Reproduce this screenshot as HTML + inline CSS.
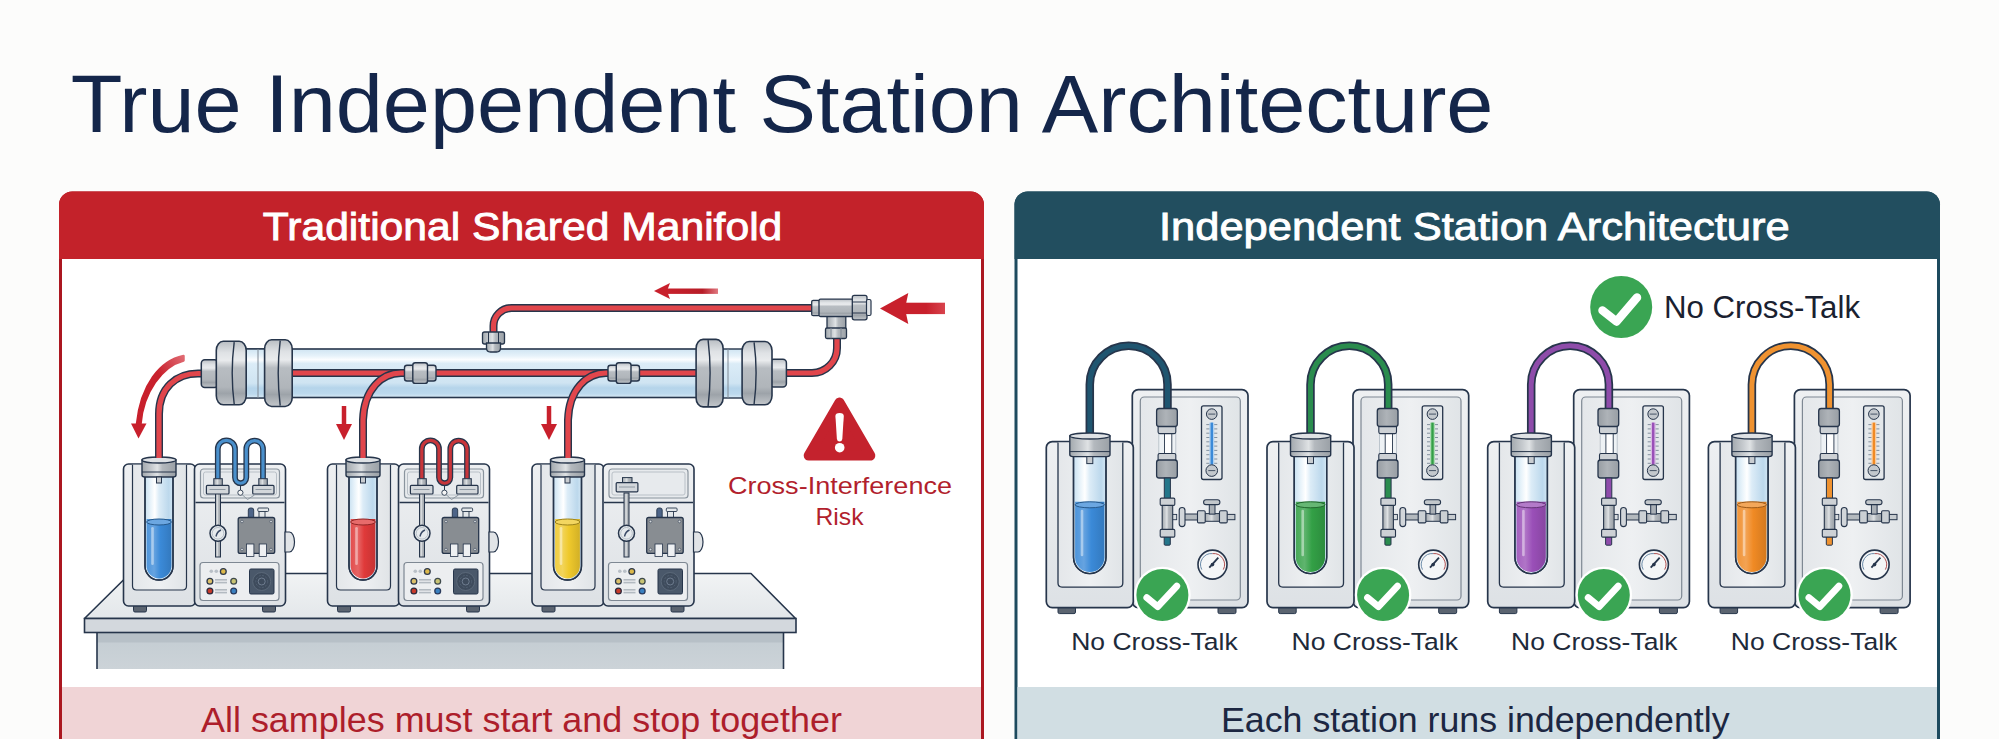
<!DOCTYPE html>
<html><head><meta charset="utf-8"><title>True Independent Station Architecture</title>
<style>html,body{margin:0;padding:0;background:#fcfcfb;width:1999px;height:739px;overflow:hidden}svg{display:block}</style>
</head><body>
<svg width="1999" height="739" viewBox="0 0 1999 739"><defs>
<linearGradient id="mV" x1="0" y1="0" x2="0" y2="1">
 <stop offset="0" stop-color="#b9bec3"/><stop offset="0.18" stop-color="#dfe2e5"/><stop offset="0.3" stop-color="#e9ebed"/>
 <stop offset="0.42" stop-color="#b8bdc2"/><stop offset="0.72" stop-color="#b0b5ba"/><stop offset="0.82" stop-color="#9da3a9"/><stop offset="1" stop-color="#c3c7cb"/>
</linearGradient>
<linearGradient id="mH" x1="0" y1="0" x2="1" y2="0">
 <stop offset="0" stop-color="#a3a9ae"/><stop offset="0.3" stop-color="#c9cdd1"/><stop offset="0.45" stop-color="#dfe2e4"/>
 <stop offset="0.6" stop-color="#b4b9be"/><stop offset="1" stop-color="#9aa0a6"/>
</linearGradient>
<linearGradient id="mF" x1="0" y1="0" x2="1" y2="0">
 <stop offset="0" stop-color="#979da3"/><stop offset="0.45" stop-color="#aeb3b8"/><stop offset="1" stop-color="#989ea4"/>
</linearGradient>
<linearGradient id="tblG" x1="0" y1="0" x2="0" y2="1">
 <stop offset="0" stop-color="#c3ccd2"/><stop offset="1" stop-color="#ccd3d8"/>
</linearGradient>
<linearGradient id="gV" x1="0" y1="0" x2="0" y2="1">
 <stop offset="0" stop-color="#cfe4f2"/><stop offset="0.14" stop-color="#e6f2fa"/><stop offset="0.22" stop-color="#fbfdff"/><stop offset="0.3" stop-color="#dbecf7"/>
 <stop offset="0.7" stop-color="#cfe4f2"/><stop offset="0.8" stop-color="#b5d4ea"/><stop offset="0.92" stop-color="#bcd9ed"/><stop offset="1" stop-color="#d9eaf5"/>
</linearGradient>
<linearGradient id="gH" x1="0" y1="0" x2="1" y2="0">
 <stop offset="0" stop-color="#c9e1f1"/><stop offset="0.2" stop-color="#e8f3fa"/><stop offset="0.35" stop-color="#ffffff"/><stop offset="0.5" stop-color="#dcecf7"/>
 <stop offset="0.85" stop-color="#bcd8ec"/><stop offset="1" stop-color="#d3e7f4"/>
</linearGradient>
<linearGradient id="boxG" x1="0" y1="0" x2="0" y2="1">
 <stop offset="0" stop-color="#eef0f2"/><stop offset="1" stop-color="#dde1e5"/>
</linearGradient>
<linearGradient id="boxG2" x1="0" y1="0" x2="1" y2="0">
 <stop offset="0" stop-color="#e4e7ea"/><stop offset="0.5" stop-color="#eef0f2"/><stop offset="1" stop-color="#e0e4e7"/>
</linearGradient>
<linearGradient id="topG" x1="0" y1="0" x2="0" y2="1">
 <stop offset="0" stop-color="#f1f3f4"/><stop offset="1" stop-color="#e3e7ea"/>
</linearGradient>
<linearGradient id="Lblue" x1="0" y1="0" x2="1" y2="0"><stop offset="0" stop-color="#4e95db"/><stop offset="0.3" stop-color="#66a3e0"/><stop offset="0.55" stop-color="#3b8ad8"/><stop offset="1" stop-color="#3379be"/></linearGradient><linearGradient id="Lred" x1="0" y1="0" x2="1" y2="0"><stop offset="0" stop-color="#e34d4d"/><stop offset="0.3" stop-color="#e66565"/><stop offset="0.55" stop-color="#e03a3a"/><stop offset="1" stop-color="#c53333"/></linearGradient><linearGradient id="Lyellow" x1="0" y1="0" x2="1" y2="0"><stop offset="0" stop-color="#f0ce41"/><stop offset="0.3" stop-color="#f2d45a"/><stop offset="0.55" stop-color="#efc92c"/><stop offset="1" stop-color="#d2b026"/></linearGradient><linearGradient id="Lgreen" x1="0" y1="0" x2="1" y2="0"><stop offset="0" stop-color="#47a958"/><stop offset="0.3" stop-color="#5fb46e"/><stop offset="0.55" stop-color="#33a046"/><stop offset="1" stop-color="#2c8c3d"/></linearGradient><linearGradient id="Lpurple" x1="0" y1="0" x2="1" y2="0"><stop offset="0" stop-color="#a460bf"/><stop offset="0.3" stop-color="#b075c7"/><stop offset="0.55" stop-color="#9a4fb8"/><stop offset="1" stop-color="#8745a1"/></linearGradient><linearGradient id="Lorange" x1="0" y1="0" x2="1" y2="0"><stop offset="0" stop-color="#f19539"/><stop offset="0.3" stop-color="#f3a354"/><stop offset="0.55" stop-color="#f08a24"/><stop offset="1" stop-color="#d3791f"/></linearGradient>
<linearGradient id="fadeR" x1="0" y1="0" x2="1" y2="0"><stop offset="0" stop-color="#c8202c"/><stop offset="0.55" stop-color="#c8202c"/><stop offset="1" stop-color="#d8434d"/></linearGradient>
<linearGradient id="fadeR2" x1="0" y1="0" x2="1" y2="0"><stop offset="0" stop-color="#c8202c"/><stop offset="0.7" stop-color="#b71c27"/><stop offset="1" stop-color="#e07880"/></linearGradient>
<linearGradient id="fadeC" x1="0" y1="1" x2="1" y2="0"><stop offset="0" stop-color="#c8202c"/><stop offset="0.6" stop-color="#c8202c"/><stop offset="1" stop-color="#e06a72"/></linearGradient>
</defs>
<rect x="0" y="0" width="1999" height="739" fill="#fcfcfb"/>
<rect x="60.5" y="193.0" width="922" height="568.5" rx="12" fill="#ffffff" stroke="#ab1720" stroke-width="3"/>
<path d="M59,259 V204.5 A13,13 0 0 1 72,191.5 H971 A13,13 0 0 1 984,204.5 V259 Z" fill="#c3222a"/>
<rect x="62" y="687" width="919" height="60" fill="#f0d4d6"/>
<rect x="1016.0" y="193.0" width="922.5" height="568.5" rx="12" fill="#ffffff" stroke="#1d4a5e" stroke-width="3"/>
<path d="M1014.5,259 V204.5 A13,13 0 0 1 1027.5,191.5 H1927 A13,13 0 0 1 1940,204.5 V259 Z" fill="#224e5f"/>
<rect x="1017.5" y="687" width="919.5" height="60" fill="#d1dee3"/>
<text x="70.8" y="132" font-family='"Liberation Sans", sans-serif' font-size="82" fill="#14264a" textLength="1422.6" lengthAdjust="spacingAndGlyphs">True Independent Station Architecture</text>
<text x="262.8" y="240" font-family='"Liberation Sans", sans-serif' font-size="39" font-weight="normal" fill="#ffffff" stroke="#ffffff" stroke-width="0.9" textLength="519.5" lengthAdjust="spacingAndGlyphs">Traditional Shared Manifold</text>
<text x="1159" y="240" font-family='"Liberation Sans", sans-serif' font-size="39" font-weight="normal" fill="#ffffff" stroke="#ffffff" stroke-width="0.9" textLength="630.6" lengthAdjust="spacingAndGlyphs">Independent Station Architecture</text>
<text x="201" y="731.5" font-family='"Liberation Sans", sans-serif' font-size="35" fill="#ad1e2b" textLength="641" lengthAdjust="spacingAndGlyphs">All samples must start and stop together</text>
<text x="1221" y="731.5" font-family='"Liberation Sans", sans-serif' font-size="35" fill="#1c2742" textLength="508.6" lengthAdjust="spacingAndGlyphs">Each station runs independently</text>
<rect x="97" y="632" width="686.5" height="37" fill="url(#tblG)"/>
<rect x="97" y="632" width="686.5" height="10.5" fill="#b7c0c7"/>
<path d="M97,632 V669 M783.5,632 V669" stroke="#26354b" stroke-width="1.6"/>
<path d="M130,573.5 H751 L795.6,618.5 H84.5 Z" fill="url(#topG)" stroke="#26354b" stroke-width="1.6" stroke-linejoin="round"/>
<rect x="84.5" y="618.5" width="711.5" height="14" fill="#d3d8dd" stroke="#26354b" stroke-width="1.6"/>
<g transform="translate(123.5,464)"><rect x="10" y="141" width="13" height="7" rx="1.5" fill="#5b6470" stroke="#26354b" stroke-width="1"/><rect x="139" y="141" width="13" height="7" rx="1.5" fill="#5b6470" stroke="#26354b" stroke-width="1"/><rect x="0" y="0" width="72" height="142" rx="5" fill="url(#boxG)" stroke="#26354b" stroke-width="1.6"/><path d="M9,0.8 V122 Q9,126 13,126 H59 Q63,126 63,122 V0.8 Z" fill="url(#boxG2)"/><path d="M9,0.8 V122 Q9,126 13,126 H59 Q63,126 63,122 V0.8" fill="none" stroke="#26354b" stroke-width="1.2"/><rect x="71" y="0" width="91" height="142" rx="5" fill="url(#boxG)" stroke="#26354b" stroke-width="1.6"/><rect x="77" y="5" width="79" height="29" rx="3" fill="#e7eaed" stroke="#8a949e" stroke-width="1.2"/><rect x="80" y="8" width="73" height="23" rx="2" fill="none" stroke="#b9c0c7" stroke-width="1"/><line x1="72" y1="38.5" x2="161" y2="38.5" stroke="#26354b" stroke-width="1.5"/><path d="M161.5,68 H166 A5,10 0 0 1 166,88 H161.5 Z" fill="#e1e4e7" stroke="#26354b" stroke-width="1.2"/><path d="M21.5,12 V102.0 A14.0,14.0 0 0 0 49.5,102.0 V12 Z" fill="url(#gH)" stroke="#26354b" stroke-width="1.4"/><path d="M23.1,55 V102.0 A12.4,12.4 0 0 0 47.9,102.0 V55 Z" fill="url(#Lblue)"/><ellipse cx="35.5" cy="58" rx="12.4" ry="3" fill="#6ca7e1" stroke="#26598c" stroke-width="1"/><rect x="27.7" y="63" width="2.6" height="38.0" rx="1.3" fill="#ffffff" opacity="0.45"/><path d="M21.5,12 V102.0 A14.0,14.0 0 0 0 49.5,102.0 V12" fill="none" stroke="#26354b" stroke-width="1.4"/><path d="M18.5,-4 V11 Q18.5,13 21.5,13 H49.5 Q52.5,13 52.5,11 V-4 Z" fill="url(#mH)" stroke="#26354b" stroke-width="1.4"/><ellipse cx="35.5" cy="-4" rx="17.0" ry="3" fill="#dfe2e5" stroke="#26354b" stroke-width="1.3"/><line x1="18.5" y1="8" x2="52.5" y2="8" stroke="#26354b" stroke-width="1"/><rect x="33" y="13" width="5" height="6" fill="#c9cdd1" stroke="#26354b" stroke-width="1"/><rect x="92" y="29" width="5" height="64" fill="url(#mH)" stroke="#26354b" stroke-width="1"/><circle cx="94.5" cy="69.3" r="8" fill="#e6eaed" stroke="#26354b" stroke-width="1.5"/><circle cx="94.5" cy="69.3" r="5.8" fill="none" stroke="#aab4be" stroke-width="0.8"/><path d="M92.5,72.5 Q93.5,67.5 97.5,66" fill="none" stroke="#3a4a66" stroke-width="1.4"/><rect x="124.8" y="44" width="5.4" height="14" rx="2" fill="#4d6488" stroke="#26354b" stroke-width="0.9"/><rect x="135.5" y="46" width="6" height="12" fill="#e3e7ea" stroke="#26354b" stroke-width="0.9"/><rect x="134.3" y="44" width="10.8" height="3.5" rx="1" fill="#e3e7ea" stroke="#26354b" stroke-width="0.9"/><rect x="114.7" y="53.5" width="36.5" height="35.9" rx="2" fill="#888d92" stroke="#26354b" stroke-width="1.3"/><circle cx="118.5" cy="57.5" r="1.3" fill="#d5d9dc" stroke="#26354b" stroke-width="0.5"/><circle cx="118.5" cy="85.5" r="1.3" fill="#d5d9dc" stroke="#26354b" stroke-width="0.5"/><circle cx="147.5" cy="57.5" r="1.3" fill="#d5d9dc" stroke="#26354b" stroke-width="0.5"/><circle cx="147.5" cy="85.5" r="1.3" fill="#d5d9dc" stroke="#26354b" stroke-width="0.5"/><rect x="123" y="80" width="7.4" height="12.5" fill="#eef0f2" stroke="#26354b" stroke-width="0.8"/><rect x="135.7" y="80" width="7.4" height="12.5" fill="#eef0f2" stroke="#26354b" stroke-width="0.8"/><rect x="76.5" y="98.5" width="79" height="38" rx="3" fill="#eceef0" stroke="#7e8893" stroke-width="1.2"/><rect x="126" y="105" width="24.5" height="25" rx="1.5" fill="#4a586a" stroke="#26354b" stroke-width="1"/><circle cx="138.2" cy="117.5" r="9" fill="#3e4b5c" stroke="#5f6d7e" stroke-width="0.8"/><circle cx="138.2" cy="117.5" r="3.5" fill="none" stroke="#738194" stroke-width="0.9"/><circle cx="138.2" cy="117.5" r="6" fill="none" stroke="#566477" stroke-width="0.8" stroke-dasharray="2 1.5"/><circle cx="99.8" cy="107.5" r="2.9" fill="#dcb84a" stroke="#2f3a4c" stroke-width="1.3"/><circle cx="86.4" cy="117.2" r="2.9" fill="#dcc06a" stroke="#2f3a4c" stroke-width="1.3"/><circle cx="110.2" cy="117.2" r="2.9" fill="#c9c474" stroke="#3f4a4c" stroke-width="1.3"/><circle cx="86.4" cy="127" r="2.9" fill="#c83a2a" stroke="#2f2a3c" stroke-width="1.3"/><circle cx="110.2" cy="127" r="2.9" fill="#3a80c0" stroke="#2a3a5c" stroke-width="1.3"/><rect x="91.5" y="115" width="12" height="1.6" fill="#b3bac1"/><rect x="91.5" y="117.8" width="12" height="1.6" fill="#b3bac1"/><rect x="91.5" y="125" width="12" height="1.6" fill="#b3bac1"/><rect x="91.5" y="127.8" width="12" height="1.6" fill="#b3bac1"/><circle cx="87.8" cy="107.3" r="1.8" fill="#b9c0c7"/><circle cx="92.8" cy="107.3" r="1.8" fill="#b9c0c7"/><path d="M94.3,24 V-15.1 A8.6,8.6 0 0 1 111.5,-15.1 V13.6 A5.65,5.65 0 0 0 122.8,13.6 V-15.1 A8.35,8.35 0 0 1 139.5,-15.1 V24" fill="none" stroke="#26354b" stroke-width="5.8"/><path d="M94.3,24 V-15.1 A8.6,8.6 0 0 1 111.5,-15.1 V13.6 A5.65,5.65 0 0 0 122.8,13.6 V-15.1 A8.35,8.35 0 0 1 139.5,-15.1 V24" fill="none" stroke="#4a90cc" stroke-width="3.2"/><rect x="90.3" y="14.7" width="8.5" height="7" fill="url(#mH)" stroke="#26354b" stroke-width="1"/><rect x="135.3" y="14.7" width="8.5" height="7" fill="url(#mH)" stroke="#26354b" stroke-width="1"/><rect x="82.9" y="21.4" width="22.6" height="8.6" rx="1" fill="#d3d7db" stroke="#26354b" stroke-width="1.2"/><rect x="129.2" y="21.4" width="21.3" height="8.6" rx="1" fill="#d3d7db" stroke="#26354b" stroke-width="1.2"/><line x1="86" y1="25.5" x2="102" y2="25.5" stroke="#8e98a2" stroke-width="1"/><line x1="132" y1="25.5" x2="148" y2="25.5" stroke="#8e98a2" stroke-width="1"/><path d="M117,22 V26" stroke="#26354b" stroke-width="1"/><circle cx="116.9" cy="28.7" r="2.6" fill="#f6f6f6" stroke="#26354b" stroke-width="0.9"/><path d="M118.5,30.5 L124,35.5 L131,31" fill="none" stroke="#8e98a2" stroke-width="1"/></g>
<g transform="translate(327.5,464)"><rect x="10" y="141" width="13" height="7" rx="1.5" fill="#5b6470" stroke="#26354b" stroke-width="1"/><rect x="139" y="141" width="13" height="7" rx="1.5" fill="#5b6470" stroke="#26354b" stroke-width="1"/><rect x="0" y="0" width="72" height="142" rx="5" fill="url(#boxG)" stroke="#26354b" stroke-width="1.6"/><path d="M9,0.8 V122 Q9,126 13,126 H59 Q63,126 63,122 V0.8 Z" fill="url(#boxG2)"/><path d="M9,0.8 V122 Q9,126 13,126 H59 Q63,126 63,122 V0.8" fill="none" stroke="#26354b" stroke-width="1.2"/><rect x="71" y="0" width="91" height="142" rx="5" fill="url(#boxG)" stroke="#26354b" stroke-width="1.6"/><rect x="77" y="5" width="79" height="29" rx="3" fill="#e7eaed" stroke="#8a949e" stroke-width="1.2"/><rect x="80" y="8" width="73" height="23" rx="2" fill="none" stroke="#b9c0c7" stroke-width="1"/><line x1="72" y1="38.5" x2="161" y2="38.5" stroke="#26354b" stroke-width="1.5"/><path d="M161.5,68 H166 A5,10 0 0 1 166,88 H161.5 Z" fill="#e1e4e7" stroke="#26354b" stroke-width="1.2"/><path d="M21.5,12 V102.0 A14.0,14.0 0 0 0 49.5,102.0 V12 Z" fill="url(#gH)" stroke="#26354b" stroke-width="1.4"/><path d="M23.1,55 V102.0 A12.4,12.4 0 0 0 47.9,102.0 V55 Z" fill="url(#Lred)"/><ellipse cx="35.5" cy="58" rx="12.4" ry="3" fill="#e76b6b" stroke="#912525" stroke-width="1"/><rect x="27.7" y="63" width="2.6" height="38.0" rx="1.3" fill="#ffffff" opacity="0.45"/><path d="M21.5,12 V102.0 A14.0,14.0 0 0 0 49.5,102.0 V12" fill="none" stroke="#26354b" stroke-width="1.4"/><path d="M18.5,-4 V11 Q18.5,13 21.5,13 H49.5 Q52.5,13 52.5,11 V-4 Z" fill="url(#mH)" stroke="#26354b" stroke-width="1.4"/><ellipse cx="35.5" cy="-4" rx="17.0" ry="3" fill="#dfe2e5" stroke="#26354b" stroke-width="1.3"/><line x1="18.5" y1="8" x2="52.5" y2="8" stroke="#26354b" stroke-width="1"/><rect x="33" y="13" width="5" height="6" fill="#c9cdd1" stroke="#26354b" stroke-width="1"/><rect x="92" y="29" width="5" height="64" fill="url(#mH)" stroke="#26354b" stroke-width="1"/><circle cx="94.5" cy="69.3" r="8" fill="#e6eaed" stroke="#26354b" stroke-width="1.5"/><circle cx="94.5" cy="69.3" r="5.8" fill="none" stroke="#aab4be" stroke-width="0.8"/><path d="M92.5,72.5 Q93.5,67.5 97.5,66" fill="none" stroke="#3a4a66" stroke-width="1.4"/><rect x="124.8" y="44" width="5.4" height="14" rx="2" fill="#4d6488" stroke="#26354b" stroke-width="0.9"/><rect x="135.5" y="46" width="6" height="12" fill="#e3e7ea" stroke="#26354b" stroke-width="0.9"/><rect x="134.3" y="44" width="10.8" height="3.5" rx="1" fill="#e3e7ea" stroke="#26354b" stroke-width="0.9"/><rect x="114.7" y="53.5" width="36.5" height="35.9" rx="2" fill="#888d92" stroke="#26354b" stroke-width="1.3"/><circle cx="118.5" cy="57.5" r="1.3" fill="#d5d9dc" stroke="#26354b" stroke-width="0.5"/><circle cx="118.5" cy="85.5" r="1.3" fill="#d5d9dc" stroke="#26354b" stroke-width="0.5"/><circle cx="147.5" cy="57.5" r="1.3" fill="#d5d9dc" stroke="#26354b" stroke-width="0.5"/><circle cx="147.5" cy="85.5" r="1.3" fill="#d5d9dc" stroke="#26354b" stroke-width="0.5"/><rect x="123" y="80" width="7.4" height="12.5" fill="#eef0f2" stroke="#26354b" stroke-width="0.8"/><rect x="135.7" y="80" width="7.4" height="12.5" fill="#eef0f2" stroke="#26354b" stroke-width="0.8"/><rect x="76.5" y="98.5" width="79" height="38" rx="3" fill="#eceef0" stroke="#7e8893" stroke-width="1.2"/><rect x="126" y="105" width="24.5" height="25" rx="1.5" fill="#4a586a" stroke="#26354b" stroke-width="1"/><circle cx="138.2" cy="117.5" r="9" fill="#3e4b5c" stroke="#5f6d7e" stroke-width="0.8"/><circle cx="138.2" cy="117.5" r="3.5" fill="none" stroke="#738194" stroke-width="0.9"/><circle cx="138.2" cy="117.5" r="6" fill="none" stroke="#566477" stroke-width="0.8" stroke-dasharray="2 1.5"/><circle cx="99.8" cy="107.5" r="2.9" fill="#dcb84a" stroke="#2f3a4c" stroke-width="1.3"/><circle cx="86.4" cy="117.2" r="2.9" fill="#dcc06a" stroke="#2f3a4c" stroke-width="1.3"/><circle cx="110.2" cy="117.2" r="2.9" fill="#c9c474" stroke="#3f4a4c" stroke-width="1.3"/><circle cx="86.4" cy="127" r="2.9" fill="#c83a2a" stroke="#2f2a3c" stroke-width="1.3"/><circle cx="110.2" cy="127" r="2.9" fill="#3a80c0" stroke="#2a3a5c" stroke-width="1.3"/><rect x="91.5" y="115" width="12" height="1.6" fill="#b3bac1"/><rect x="91.5" y="117.8" width="12" height="1.6" fill="#b3bac1"/><rect x="91.5" y="125" width="12" height="1.6" fill="#b3bac1"/><rect x="91.5" y="127.8" width="12" height="1.6" fill="#b3bac1"/><circle cx="87.8" cy="107.3" r="1.8" fill="#b9c0c7"/><circle cx="92.8" cy="107.3" r="1.8" fill="#b9c0c7"/><path d="M94.3,24 V-15.1 A8.6,8.6 0 0 1 111.5,-15.1 V13.6 A5.65,5.65 0 0 0 122.8,13.6 V-15.1 A8.35,8.35 0 0 1 139.5,-15.1 V24" fill="none" stroke="#26354b" stroke-width="5.8"/><path d="M94.3,24 V-15.1 A8.6,8.6 0 0 1 111.5,-15.1 V13.6 A5.65,5.65 0 0 0 122.8,13.6 V-15.1 A8.35,8.35 0 0 1 139.5,-15.1 V24" fill="none" stroke="#c8353a" stroke-width="3.2"/><rect x="90.3" y="14.7" width="8.5" height="7" fill="url(#mH)" stroke="#26354b" stroke-width="1"/><rect x="135.3" y="14.7" width="8.5" height="7" fill="url(#mH)" stroke="#26354b" stroke-width="1"/><rect x="82.9" y="21.4" width="22.6" height="8.6" rx="1" fill="#d3d7db" stroke="#26354b" stroke-width="1.2"/><rect x="129.2" y="21.4" width="21.3" height="8.6" rx="1" fill="#d3d7db" stroke="#26354b" stroke-width="1.2"/><line x1="86" y1="25.5" x2="102" y2="25.5" stroke="#8e98a2" stroke-width="1"/><line x1="132" y1="25.5" x2="148" y2="25.5" stroke="#8e98a2" stroke-width="1"/><path d="M117,22 V26" stroke="#26354b" stroke-width="1"/><circle cx="116.9" cy="28.7" r="2.6" fill="#f6f6f6" stroke="#26354b" stroke-width="0.9"/><path d="M118.5,30.5 L124,35.5 L131,31" fill="none" stroke="#8e98a2" stroke-width="1"/></g>
<g transform="translate(532,464)"><rect x="10" y="141" width="13" height="7" rx="1.5" fill="#5b6470" stroke="#26354b" stroke-width="1"/><rect x="139" y="141" width="13" height="7" rx="1.5" fill="#5b6470" stroke="#26354b" stroke-width="1"/><rect x="0" y="0" width="72" height="142" rx="5" fill="url(#boxG)" stroke="#26354b" stroke-width="1.6"/><path d="M9,0.8 V122 Q9,126 13,126 H59 Q63,126 63,122 V0.8 Z" fill="url(#boxG2)"/><path d="M9,0.8 V122 Q9,126 13,126 H59 Q63,126 63,122 V0.8" fill="none" stroke="#26354b" stroke-width="1.2"/><rect x="71" y="0" width="91" height="142" rx="5" fill="url(#boxG)" stroke="#26354b" stroke-width="1.6"/><rect x="77" y="5" width="79" height="29" rx="3" fill="#e7eaed" stroke="#8a949e" stroke-width="1.2"/><rect x="80" y="8" width="73" height="23" rx="2" fill="none" stroke="#b9c0c7" stroke-width="1"/><line x1="72" y1="38.5" x2="161" y2="38.5" stroke="#26354b" stroke-width="1.5"/><path d="M161.5,68 H166 A5,10 0 0 1 166,88 H161.5 Z" fill="#e1e4e7" stroke="#26354b" stroke-width="1.2"/><path d="M21.5,12 V102.0 A14.0,14.0 0 0 0 49.5,102.0 V12 Z" fill="url(#gH)" stroke="#26354b" stroke-width="1.4"/><path d="M23.1,55 V102.0 A12.4,12.4 0 0 0 47.9,102.0 V55 Z" fill="url(#Lyellow)"/><ellipse cx="35.5" cy="58" rx="12.4" ry="3" fill="#f3d660" stroke="#9b821c" stroke-width="1"/><rect x="27.7" y="63" width="2.6" height="38.0" rx="1.3" fill="#ffffff" opacity="0.45"/><path d="M21.5,12 V102.0 A14.0,14.0 0 0 0 49.5,102.0 V12" fill="none" stroke="#26354b" stroke-width="1.4"/><path d="M18.5,-4 V11 Q18.5,13 21.5,13 H49.5 Q52.5,13 52.5,11 V-4 Z" fill="url(#mH)" stroke="#26354b" stroke-width="1.4"/><ellipse cx="35.5" cy="-4" rx="17.0" ry="3" fill="#dfe2e5" stroke="#26354b" stroke-width="1.3"/><line x1="18.5" y1="8" x2="52.5" y2="8" stroke="#26354b" stroke-width="1"/><rect x="33" y="13" width="5" height="6" fill="#c9cdd1" stroke="#26354b" stroke-width="1"/><rect x="92" y="29" width="5" height="64" fill="url(#mH)" stroke="#26354b" stroke-width="1"/><circle cx="94.5" cy="69.3" r="8" fill="#e6eaed" stroke="#26354b" stroke-width="1.5"/><circle cx="94.5" cy="69.3" r="5.8" fill="none" stroke="#aab4be" stroke-width="0.8"/><path d="M92.5,72.5 Q93.5,67.5 97.5,66" fill="none" stroke="#3a4a66" stroke-width="1.4"/><rect x="124.8" y="44" width="5.4" height="14" rx="2" fill="#4d6488" stroke="#26354b" stroke-width="0.9"/><rect x="135.5" y="46" width="6" height="12" fill="#e3e7ea" stroke="#26354b" stroke-width="0.9"/><rect x="134.3" y="44" width="10.8" height="3.5" rx="1" fill="#e3e7ea" stroke="#26354b" stroke-width="0.9"/><rect x="114.7" y="53.5" width="36.5" height="35.9" rx="2" fill="#888d92" stroke="#26354b" stroke-width="1.3"/><circle cx="118.5" cy="57.5" r="1.3" fill="#d5d9dc" stroke="#26354b" stroke-width="0.5"/><circle cx="118.5" cy="85.5" r="1.3" fill="#d5d9dc" stroke="#26354b" stroke-width="0.5"/><circle cx="147.5" cy="57.5" r="1.3" fill="#d5d9dc" stroke="#26354b" stroke-width="0.5"/><circle cx="147.5" cy="85.5" r="1.3" fill="#d5d9dc" stroke="#26354b" stroke-width="0.5"/><rect x="123" y="80" width="7.4" height="12.5" fill="#eef0f2" stroke="#26354b" stroke-width="0.8"/><rect x="135.7" y="80" width="7.4" height="12.5" fill="#eef0f2" stroke="#26354b" stroke-width="0.8"/><rect x="76.5" y="98.5" width="79" height="38" rx="3" fill="#eceef0" stroke="#7e8893" stroke-width="1.2"/><rect x="126" y="105" width="24.5" height="25" rx="1.5" fill="#4a586a" stroke="#26354b" stroke-width="1"/><circle cx="138.2" cy="117.5" r="9" fill="#3e4b5c" stroke="#5f6d7e" stroke-width="0.8"/><circle cx="138.2" cy="117.5" r="3.5" fill="none" stroke="#738194" stroke-width="0.9"/><circle cx="138.2" cy="117.5" r="6" fill="none" stroke="#566477" stroke-width="0.8" stroke-dasharray="2 1.5"/><circle cx="99.8" cy="107.5" r="2.9" fill="#dcb84a" stroke="#2f3a4c" stroke-width="1.3"/><circle cx="86.4" cy="117.2" r="2.9" fill="#dcc06a" stroke="#2f3a4c" stroke-width="1.3"/><circle cx="110.2" cy="117.2" r="2.9" fill="#c9c474" stroke="#3f4a4c" stroke-width="1.3"/><circle cx="86.4" cy="127" r="2.9" fill="#c83a2a" stroke="#2f2a3c" stroke-width="1.3"/><circle cx="110.2" cy="127" r="2.9" fill="#3a80c0" stroke="#2a3a5c" stroke-width="1.3"/><rect x="91.5" y="115" width="12" height="1.6" fill="#b3bac1"/><rect x="91.5" y="117.8" width="12" height="1.6" fill="#b3bac1"/><rect x="91.5" y="125" width="12" height="1.6" fill="#b3bac1"/><rect x="91.5" y="127.8" width="12" height="1.6" fill="#b3bac1"/><circle cx="87.8" cy="107.3" r="1.8" fill="#b9c0c7"/><circle cx="92.8" cy="107.3" r="1.8" fill="#b9c0c7"/><rect x="90.5" y="13.6" width="9.5" height="5.5" fill="url(#mH)" stroke="#26354b" stroke-width="1"/><rect x="84.2" y="18.6" width="21.7" height="9.2" rx="1" fill="#d3d7db" stroke="#26354b" stroke-width="1.2"/><line x1="87" y1="23" x2="103" y2="23" stroke="#8e98a2" stroke-width="1"/></g>
<path d="M205,373.5 H198 C176,373.5 159,388 159,414 V458" fill="none" stroke="#26354b" stroke-width="8" stroke-linejoin="round"/>
<path d="M205,373.5 H198 C176,373.5 159,388 159,414 V458" fill="none" stroke="#e1464c" stroke-width="5.2" stroke-linejoin="round"/>
<path d="M780,373 H812 A25,25 0 0 0 837,348 V335" fill="none" stroke="#26354b" stroke-width="8" stroke-linejoin="round"/>
<path d="M780,373 H812 A25,25 0 0 0 837,348 V335" fill="none" stroke="#e1464c" stroke-width="5.2" stroke-linejoin="round"/>
<path d="M493.5,335 V326 A18,18 0 0 1 511.5,308 H815" fill="none" stroke="#26354b" stroke-width="8" stroke-linejoin="round"/>
<path d="M493.5,335 V326 A18,18 0 0 1 511.5,308 H815" fill="none" stroke="#e1464c" stroke-width="5.2" stroke-linejoin="round"/>
<rect x="240" y="349" width="470" height="48.5" fill="url(#gV)" stroke="#26354b" stroke-width="1.6"/>
<path d="M216,373 H772" fill="none" stroke="#26354b" stroke-width="8" stroke-linejoin="round"/>
<path d="M216,373 H772" fill="none" stroke="#e1464c" stroke-width="5.2" stroke-linejoin="round"/>
<path d="M404,373 H401 C382,373 364,389 363,420 V458" fill="none" stroke="#26354b" stroke-width="8" stroke-linejoin="round"/>
<path d="M404,373 H401 C382,373 364,389 363,420 V458" fill="none" stroke="#e1464c" stroke-width="5.2" stroke-linejoin="round"/>
<path d="M608,373 H606 C587,373 569,389 568,420 V458" fill="none" stroke="#26354b" stroke-width="8" stroke-linejoin="round"/>
<path d="M608,373 H606 C587,373 569,389 568,420 V458" fill="none" stroke="#e1464c" stroke-width="5.2" stroke-linejoin="round"/>
<rect x="404.5" y="365.2" width="31.5" height="15.8" rx="2.5" fill="url(#mV)" stroke="#26354b" stroke-width="1.4"/>
<rect x="412.8" y="362.8" width="14.7" height="20.6" rx="2.5" fill="url(#mV)" stroke="#26354b" stroke-width="1.4"/>
<rect x="608" y="365.2" width="31.5" height="15.8" rx="2.5" fill="url(#mV)" stroke="#26354b" stroke-width="1.4"/>
<rect x="616.3" y="362.8" width="14.7" height="20.6" rx="2.5" fill="url(#mV)" stroke="#26354b" stroke-width="1.4"/>
<rect x="482.5" y="332" width="22" height="12" rx="2" fill="url(#mH)" stroke="#26354b" stroke-width="1.3"/>
<path d="M488.5,332 V344 M498.5,332 V344" stroke="#26354b" stroke-width="1"/>
<path d="M486.5,343 H500.5 V348 Q500.5,352 496.5,352 H490.5 Q486.5,352 486.5,348 Z" fill="url(#mH)" stroke="#26354b" stroke-width="1.3"/>
<rect x="201.3" y="359.7" width="16.69999999999999" height="27.80000000000001" rx="3.5" fill="url(#mV)" stroke="#26354b" stroke-width="1.5"/>
<rect x="770" y="359.3" width="16.399999999999977" height="27.69999999999999" rx="3.5" fill="url(#mV)" stroke="#26354b" stroke-width="1.5"/>
<rect x="241" y="349" width="24" height="49" fill="url(#gV)" stroke="#26354b" stroke-width="1.4"/>
<rect x="722" y="349" width="24" height="49" fill="url(#gV)" stroke="#26354b" stroke-width="1.4"/>
<path d="M258,349 V398 M728,349 V398" stroke="#7e8893" stroke-width="1"/>
<rect x="216.3" y="341.3" width="29.899999999999977" height="63.5" rx="7" ry="9" fill="url(#mV)" stroke="#26354b" stroke-width="1.6"/>
<path d="M234.2,342.1 Q230.2,373.05 234.2,404.0" fill="none" stroke="#26354b" stroke-width="1.4"/>
<rect x="264.6" y="339.8" width="27.599999999999966" height="66.69999999999999" rx="7" ry="9" fill="url(#mV)" stroke="#26354b" stroke-width="1.6"/>
<path d="M280.2,340.6 Q276.2,373.15 280.2,405.7" fill="none" stroke="#26354b" stroke-width="1.4"/>
<rect x="696.1" y="339.4" width="27.0" height="67.5" rx="7" ry="9" fill="url(#mV)" stroke="#26354b" stroke-width="1.6"/>
<path d="M708.1,340.2 Q712.1,373.15 708.1,406.09999999999997" fill="none" stroke="#26354b" stroke-width="1.4"/>
<rect x="742.1" y="341.5" width="29.899999999999977" height="63.30000000000001" rx="7" ry="9" fill="url(#mV)" stroke="#26354b" stroke-width="1.6"/>
<path d="M754.1,342.3 Q758.1,373.15 754.1,404.0" fill="none" stroke="#26354b" stroke-width="1.4"/>
<rect x="827" y="314" width="18.8" height="16" fill="url(#mH)" stroke="#26354b" stroke-width="1.3"/>
<rect x="825.5" y="328" width="21" height="10.5" rx="1.5" fill="url(#mH)" stroke="#26354b" stroke-width="1.3"/>
<path d="M831,328 V338.5 M841,328 V338.5" stroke="#7e8893" stroke-width="1"/>
<rect x="811.7" y="300.3" width="8" height="15.4" rx="1.5" fill="url(#mV)" stroke="#26354b" stroke-width="1.3"/>
<rect x="819" y="299.2" width="34" height="17.3" rx="1.5" fill="url(#mV)" stroke="#26354b" stroke-width="1.3"/>
<rect x="852.3" y="295.4" width="14.7" height="24.4" rx="2" fill="url(#mV)" stroke="#26354b" stroke-width="1.3"/>
<path d="M852.3,302 H867 M852.3,313 H867" stroke="#26354b" stroke-width="1"/>
<rect x="866.5" y="299.5" width="4.5" height="16" rx="1.5" fill="#e2e5e8" stroke="#26354b" stroke-width="1.2"/>
<rect x="903" y="302.7" width="42" height="11.4" fill="url(#fadeR)"/>
<path d="M880,308.4 L908.3,293 L905,308.4 L908.3,323.9 Z" fill="#c8202c"/>
<rect x="666" y="288.5" width="52" height="5.4" fill="url(#fadeR2)"/>
<path d="M654,291 L670,283 L667,291 L670,299 Z" fill="#c8202c"/>
<path d="M183.5,356 C160,361 141,385 137,424 L140.5,424 C143,392 162,366 183.5,360.5 Z" fill="url(#fadeC)" stroke="url(#fadeC)" stroke-width="2.5" stroke-linejoin="round"/>
<path d="M131,423.5 L146.5,423.5 L138.5,438.5 Z" fill="#c8202c"/>
<path d="M344,406 V428" stroke="#c8202c" stroke-width="4.5"/>
<path d="M336,424 L352,424 L344,440 Z" fill="#c8202c"/>
<path d="M549,406 V428" stroke="#c8202c" stroke-width="4.5"/>
<path d="M541,424 L557,424 L549,440 Z" fill="#c8202c"/>
<path d="M839.5,402.5 L870.3,455.6 H808.7 Z" fill="#c4222d" stroke="#c4222d" stroke-width="10" stroke-linejoin="round"/>
<path d="M835.4,416 Q835.4,413 839.6,413 Q843.8,413 843.8,416 L842.3,439 Q841.9,441.5 839.6,441.5 Q837.3,441.5 836.9,439 Z" fill="#ffffff"/>
<circle cx="839.7" cy="447.7" r="4.8" fill="#ffffff"/>
<text x="728" y="494" font-family='"Liberation Sans", sans-serif' font-size="24.5" fill="#b21f2d" textLength="224" lengthAdjust="spacingAndGlyphs">Cross-Interference</text>
<text x="815.5" y="525" font-family='"Liberation Sans", sans-serif' font-size="24.5" fill="#b21f2d" textLength="48" lengthAdjust="spacingAndGlyphs">Risk</text>
<g transform="translate(1046.3,441.6)"><rect x="11.7" y="165" width="17.5" height="7" rx="1.5" fill="#5b6470" stroke="#26354b" stroke-width="1"/><rect x="171.7" y="165" width="18" height="7" rx="1.5" fill="#5b6470" stroke="#26354b" stroke-width="1"/><rect x="86" y="-52" width="115.7" height="218" rx="6" fill="url(#boxG)" stroke="#26354b" stroke-width="1.7"/><rect x="94" y="-44.6" width="100" height="203" rx="4" fill="url(#boxG2)" stroke="#7e8893" stroke-width="1.2"/><rect x="0" y="0" width="87" height="166" rx="6" fill="url(#boxG)" stroke="#26354b" stroke-width="1.7"/><path d="M11.7,0.8 V141.5 Q11.7,145.5 15.7,145.5 H72.5 Q76.5,145.5 76.5,141.5 V0.8 Z" fill="url(#boxG2)"/><path d="M11.7,0.8 V141.5 Q11.7,145.5 15.7,145.5 H72.5 Q76.5,145.5 76.5,141.5 V0.8" fill="none" stroke="#26354b" stroke-width="1.3"/><path d="M27.2,12 V115.75 A16.25,16.25 0 0 0 59.7,115.75 V12 Z" fill="url(#gH)" stroke="#26354b" stroke-width="1.4"/><path d="M28.8,60.2 V115.75 A14.65,14.65 0 0 0 58.1,115.75 V60.2 Z" fill="url(#Lblue)"/><ellipse cx="43.45" cy="63.2" rx="14.65" ry="3" fill="#6ca7e1" stroke="#26598c" stroke-width="1"/><rect x="34.4" y="68.2" width="2.6" height="46.5" rx="1.3" fill="#ffffff" opacity="0.45"/><path d="M27.2,12 V115.75 A16.25,16.25 0 0 0 59.7,115.75 V12" fill="none" stroke="#26354b" stroke-width="1.4"/><path d="M43.5,-8 V-57 A38.85,38.85 0 0 1 121.2,-57 V-33" fill="none" stroke="#26354b" stroke-width="8.5"/><path d="M43.5,-8 V-57 A38.85,38.85 0 0 1 121.2,-57 V-33" fill="none" stroke="#1f5570" stroke-width="5"/><path d="M23.5,-5.6 V13 Q23.5,15 26.5,15 H60.7 Q63.7,15 63.7,13 V-5.6 Z" fill="url(#mH)" stroke="#26354b" stroke-width="1.4"/><ellipse cx="43.6" cy="-5.6" rx="20.1" ry="3" fill="#dfe2e5" stroke="#26354b" stroke-width="1.3"/><line x1="23.5" y1="10" x2="63.7" y2="10" stroke="#26354b" stroke-width="1"/><rect x="40.5" y="15" width="6" height="7" fill="#c9cdd1" stroke="#26354b" stroke-width="1"/><rect x="112.5" y="-8.5" width="17" height="21" fill="#eef2f5" stroke="#b8c1c9" stroke-width="0.9"/><rect x="118.2" y="-8.5" width="7.3" height="21" fill="#ffffff" stroke="#26354b" stroke-width="0.9"/><rect x="111.8" y="-16" width="17.7" height="8" rx="1.5" fill="#cdd1d5" stroke="#26354b" stroke-width="1.1"/><rect x="110.3" y="-33.1" width="20.7" height="18" rx="2.5" fill="url(#mF)" stroke="#26354b" stroke-width="1.3"/><rect x="111.8" y="11.9" width="17.7" height="7.5" rx="1.5" fill="#cdd1d5" stroke="#26354b" stroke-width="1.1"/><rect x="110.3" y="18.4" width="20.7" height="18" rx="2.5" fill="url(#mF)" stroke="#26354b" stroke-width="1.3"/><rect x="118" y="36.4" width="6.1" height="21" fill="#24768a" stroke="#26354b" stroke-width="1"/><rect x="117.9" y="94" width="6.1" height="9.6" rx="1" fill="#24768a" stroke="#26354b" stroke-width="1"/><rect x="124.4" y="72.8" width="6" height="5.3" fill="#d9dde0" stroke="#26354b" stroke-width="0.9"/><rect x="138" y="72.4" width="14" height="6" fill="#b3b9be" stroke="#26354b" stroke-width="1"/><rect x="180" y="72.8" width="8.6" height="5.3" fill="#c7ccd0" stroke="#26354b" stroke-width="1"/><rect x="132.9" y="65.9" width="5.8" height="19.1" rx="2.9" fill="#d2d6da" stroke="#26354b" stroke-width="1.1"/><rect x="158.5" y="72" width="15.5" height="7.7" fill="url(#mH)" stroke="#26354b" stroke-width="1"/><rect x="151.2" y="69.1" width="7.7" height="12.2" rx="1.2" fill="#cbd0d4" stroke="#26354b" stroke-width="1.1"/><rect x="173.2" y="69.1" width="7.7" height="12.2" rx="1.2" fill="#cbd0d4" stroke="#26354b" stroke-width="1.1"/><rect x="163" y="62.5" width="5.7" height="10" fill="#aab0b6" stroke="#26354b" stroke-width="1"/><rect x="157.3" y="58.1" width="16.3" height="4.9" rx="2.4" fill="#c2c7cb" stroke="#26354b" stroke-width="1.1"/><rect x="115.9" y="63" width="10.5" height="25.5" fill="url(#mH)" stroke="#26354b" stroke-width="1.1"/><rect x="113.9" y="56.5" width="14.6" height="7.3" rx="1.2" fill="#cdd1d5" stroke="#26354b" stroke-width="1.1"/><rect x="113.9" y="87.8" width="14.6" height="7.7" rx="1.2" fill="#cdd1d5" stroke="#26354b" stroke-width="1.1"/><rect x="155.2" y="-35.8" width="20.5" height="73.7" rx="2" fill="#e3e7ea" stroke="#26354b" stroke-width="1.3"/><circle cx="165.45" cy="-27.5" r="5.3" fill="#c3c8cd" stroke="#26354b" stroke-width="1"/><line x1="162" y1="-27.5" x2="169" y2="-27.5" stroke="#26354b" stroke-width="0.8"/><line x1="160" y1="-17.0" x2="171" y2="-17.0" stroke="#6a7a8a" stroke-width="0.8"/><line x1="160" y1="-12.7" x2="171" y2="-12.7" stroke="#6a7a8a" stroke-width="0.8"/><line x1="160" y1="-8.4" x2="171" y2="-8.4" stroke="#6a7a8a" stroke-width="0.8"/><line x1="160" y1="-4.1" x2="171" y2="-4.1" stroke="#6a7a8a" stroke-width="0.8"/><line x1="160" y1="0.2" x2="171" y2="0.2" stroke="#6a7a8a" stroke-width="0.8"/><line x1="160" y1="4.5" x2="171" y2="4.5" stroke="#6a7a8a" stroke-width="0.8"/><line x1="160" y1="8.8" x2="171" y2="8.8" stroke="#6a7a8a" stroke-width="0.8"/><line x1="160" y1="13.1" x2="171" y2="13.1" stroke="#6a7a8a" stroke-width="0.8"/><line x1="160" y1="17.4" x2="171" y2="17.4" stroke="#6a7a8a" stroke-width="0.8"/><line x1="160" y1="21.7" x2="171" y2="21.7" stroke="#6a7a8a" stroke-width="0.8"/><rect x="163" y="-19" width="5" height="42" fill="#b0d0ef"/><rect x="164.3" y="-19" width="2.4" height="42" fill="#3b8ad8"/><circle cx="165.45" cy="29" r="5.8" fill="#c3c8cd" stroke="#26354b" stroke-width="1"/><line x1="162" y1="29" x2="169" y2="29" stroke="#26354b" stroke-width="0.8"/><circle cx="166.2" cy="123" r="14.5" fill="#f4f6f7" stroke="#26354b" stroke-width="1.6"/><path d="M155.5,128 A11,11 0 0 1 166.2,112" fill="none" stroke="#6a8aa8" stroke-width="1"/><path d="M166.2,112 A11,11 0 0 1 177,128" fill="none" stroke="#b05050" stroke-width="1"/><line x1="163" y1="126" x2="172" y2="116" stroke="#26354b" stroke-width="1.8"/><circle cx="166.2" cy="123" r="1.8" fill="#26354b"/><circle cx="116.1" cy="153.4" r="28.3" fill="#ffffff"/><circle cx="116.1" cy="153.4" r="26" fill="#3aa553"/><path d="M100.5,156 L111.4,165 L130.5,144.5" fill="none" stroke="#ffffff" stroke-width="6.8" stroke-linecap="round" stroke-linejoin="round"/></g>
<text x="1071.2" y="650" font-family='"Liberation Sans", sans-serif' font-size="23.7" fill="#1e2a3a" textLength="166.5" lengthAdjust="spacingAndGlyphs">No Cross-Talk</text>
<g transform="translate(1267.0,441.6)"><rect x="11.7" y="165" width="17.5" height="7" rx="1.5" fill="#5b6470" stroke="#26354b" stroke-width="1"/><rect x="171.7" y="165" width="18" height="7" rx="1.5" fill="#5b6470" stroke="#26354b" stroke-width="1"/><rect x="86" y="-52" width="115.7" height="218" rx="6" fill="url(#boxG)" stroke="#26354b" stroke-width="1.7"/><rect x="94" y="-44.6" width="100" height="203" rx="4" fill="url(#boxG2)" stroke="#7e8893" stroke-width="1.2"/><rect x="0" y="0" width="87" height="166" rx="6" fill="url(#boxG)" stroke="#26354b" stroke-width="1.7"/><path d="M11.7,0.8 V141.5 Q11.7,145.5 15.7,145.5 H72.5 Q76.5,145.5 76.5,141.5 V0.8 Z" fill="url(#boxG2)"/><path d="M11.7,0.8 V141.5 Q11.7,145.5 15.7,145.5 H72.5 Q76.5,145.5 76.5,141.5 V0.8" fill="none" stroke="#26354b" stroke-width="1.3"/><path d="M27.2,12 V115.75 A16.25,16.25 0 0 0 59.7,115.75 V12 Z" fill="url(#gH)" stroke="#26354b" stroke-width="1.4"/><path d="M28.8,60.2 V115.75 A14.65,14.65 0 0 0 58.1,115.75 V60.2 Z" fill="url(#Lgreen)"/><ellipse cx="43.45" cy="63.2" rx="14.65" ry="3" fill="#66b774" stroke="#21682d" stroke-width="1"/><rect x="34.4" y="68.2" width="2.6" height="46.5" rx="1.3" fill="#ffffff" opacity="0.45"/><path d="M27.2,12 V115.75 A16.25,16.25 0 0 0 59.7,115.75 V12" fill="none" stroke="#26354b" stroke-width="1.4"/><path d="M43.5,-8 V-57 A38.85,38.85 0 0 1 121.2,-57 V-33" fill="none" stroke="#26354b" stroke-width="8.5"/><path d="M43.5,-8 V-57 A38.85,38.85 0 0 1 121.2,-57 V-33" fill="none" stroke="#2a8c4e" stroke-width="5"/><path d="M23.5,-5.6 V13 Q23.5,15 26.5,15 H60.7 Q63.7,15 63.7,13 V-5.6 Z" fill="url(#mH)" stroke="#26354b" stroke-width="1.4"/><ellipse cx="43.6" cy="-5.6" rx="20.1" ry="3" fill="#dfe2e5" stroke="#26354b" stroke-width="1.3"/><line x1="23.5" y1="10" x2="63.7" y2="10" stroke="#26354b" stroke-width="1"/><rect x="40.5" y="15" width="6" height="7" fill="#c9cdd1" stroke="#26354b" stroke-width="1"/><rect x="112.5" y="-8.5" width="17" height="21" fill="#eef2f5" stroke="#b8c1c9" stroke-width="0.9"/><rect x="118.2" y="-8.5" width="7.3" height="21" fill="#ffffff" stroke="#26354b" stroke-width="0.9"/><rect x="111.8" y="-16" width="17.7" height="8" rx="1.5" fill="#cdd1d5" stroke="#26354b" stroke-width="1.1"/><rect x="110.3" y="-33.1" width="20.7" height="18" rx="2.5" fill="url(#mF)" stroke="#26354b" stroke-width="1.3"/><rect x="111.8" y="11.9" width="17.7" height="7.5" rx="1.5" fill="#cdd1d5" stroke="#26354b" stroke-width="1.1"/><rect x="110.3" y="18.4" width="20.7" height="18" rx="2.5" fill="url(#mF)" stroke="#26354b" stroke-width="1.3"/><rect x="118" y="36.4" width="6.1" height="21" fill="#2a8c4e" stroke="#26354b" stroke-width="1"/><rect x="117.9" y="94" width="6.1" height="9.6" rx="1" fill="#2a8c4e" stroke="#26354b" stroke-width="1"/><rect x="124.4" y="72.8" width="6" height="5.3" fill="#d9dde0" stroke="#26354b" stroke-width="0.9"/><rect x="138" y="72.4" width="14" height="6" fill="#b3b9be" stroke="#26354b" stroke-width="1"/><rect x="180" y="72.8" width="8.6" height="5.3" fill="#c7ccd0" stroke="#26354b" stroke-width="1"/><rect x="132.9" y="65.9" width="5.8" height="19.1" rx="2.9" fill="#d2d6da" stroke="#26354b" stroke-width="1.1"/><rect x="158.5" y="72" width="15.5" height="7.7" fill="url(#mH)" stroke="#26354b" stroke-width="1"/><rect x="151.2" y="69.1" width="7.7" height="12.2" rx="1.2" fill="#cbd0d4" stroke="#26354b" stroke-width="1.1"/><rect x="173.2" y="69.1" width="7.7" height="12.2" rx="1.2" fill="#cbd0d4" stroke="#26354b" stroke-width="1.1"/><rect x="163" y="62.5" width="5.7" height="10" fill="#aab0b6" stroke="#26354b" stroke-width="1"/><rect x="157.3" y="58.1" width="16.3" height="4.9" rx="2.4" fill="#c2c7cb" stroke="#26354b" stroke-width="1.1"/><rect x="115.9" y="63" width="10.5" height="25.5" fill="url(#mH)" stroke="#26354b" stroke-width="1.1"/><rect x="113.9" y="56.5" width="14.6" height="7.3" rx="1.2" fill="#cdd1d5" stroke="#26354b" stroke-width="1.1"/><rect x="113.9" y="87.8" width="14.6" height="7.7" rx="1.2" fill="#cdd1d5" stroke="#26354b" stroke-width="1.1"/><rect x="155.2" y="-35.8" width="20.5" height="73.7" rx="2" fill="#e3e7ea" stroke="#26354b" stroke-width="1.3"/><circle cx="165.45" cy="-27.5" r="5.3" fill="#c3c8cd" stroke="#26354b" stroke-width="1"/><line x1="162" y1="-27.5" x2="169" y2="-27.5" stroke="#26354b" stroke-width="0.8"/><line x1="160" y1="-17.0" x2="171" y2="-17.0" stroke="#6a7a8a" stroke-width="0.8"/><line x1="160" y1="-12.7" x2="171" y2="-12.7" stroke="#6a7a8a" stroke-width="0.8"/><line x1="160" y1="-8.4" x2="171" y2="-8.4" stroke="#6a7a8a" stroke-width="0.8"/><line x1="160" y1="-4.1" x2="171" y2="-4.1" stroke="#6a7a8a" stroke-width="0.8"/><line x1="160" y1="0.2" x2="171" y2="0.2" stroke="#6a7a8a" stroke-width="0.8"/><line x1="160" y1="4.5" x2="171" y2="4.5" stroke="#6a7a8a" stroke-width="0.8"/><line x1="160" y1="8.8" x2="171" y2="8.8" stroke="#6a7a8a" stroke-width="0.8"/><line x1="160" y1="13.1" x2="171" y2="13.1" stroke="#6a7a8a" stroke-width="0.8"/><line x1="160" y1="17.4" x2="171" y2="17.4" stroke="#6a7a8a" stroke-width="0.8"/><line x1="160" y1="21.7" x2="171" y2="21.7" stroke="#6a7a8a" stroke-width="0.8"/><rect x="163" y="-19" width="5" height="42" fill="#add9b5"/><rect x="164.3" y="-19" width="2.4" height="42" fill="#33a046"/><circle cx="165.45" cy="29" r="5.8" fill="#c3c8cd" stroke="#26354b" stroke-width="1"/><line x1="162" y1="29" x2="169" y2="29" stroke="#26354b" stroke-width="0.8"/><circle cx="166.2" cy="123" r="14.5" fill="#f4f6f7" stroke="#26354b" stroke-width="1.6"/><path d="M155.5,128 A11,11 0 0 1 166.2,112" fill="none" stroke="#6a8aa8" stroke-width="1"/><path d="M166.2,112 A11,11 0 0 1 177,128" fill="none" stroke="#b05050" stroke-width="1"/><line x1="163" y1="126" x2="172" y2="116" stroke="#26354b" stroke-width="1.8"/><circle cx="166.2" cy="123" r="1.8" fill="#26354b"/><circle cx="116.1" cy="153.4" r="28.3" fill="#ffffff"/><circle cx="116.1" cy="153.4" r="26" fill="#3aa553"/><path d="M100.5,156 L111.4,165 L130.5,144.5" fill="none" stroke="#ffffff" stroke-width="6.8" stroke-linecap="round" stroke-linejoin="round"/></g>
<text x="1291.5" y="650" font-family='"Liberation Sans", sans-serif' font-size="23.7" fill="#1e2a3a" textLength="166.5" lengthAdjust="spacingAndGlyphs">No Cross-Talk</text>
<g transform="translate(1487.7,441.6)"><rect x="11.7" y="165" width="17.5" height="7" rx="1.5" fill="#5b6470" stroke="#26354b" stroke-width="1"/><rect x="171.7" y="165" width="18" height="7" rx="1.5" fill="#5b6470" stroke="#26354b" stroke-width="1"/><rect x="86" y="-52" width="115.7" height="218" rx="6" fill="url(#boxG)" stroke="#26354b" stroke-width="1.7"/><rect x="94" y="-44.6" width="100" height="203" rx="4" fill="url(#boxG2)" stroke="#7e8893" stroke-width="1.2"/><rect x="0" y="0" width="87" height="166" rx="6" fill="url(#boxG)" stroke="#26354b" stroke-width="1.7"/><path d="M11.7,0.8 V141.5 Q11.7,145.5 15.7,145.5 H72.5 Q76.5,145.5 76.5,141.5 V0.8 Z" fill="url(#boxG2)"/><path d="M11.7,0.8 V141.5 Q11.7,145.5 15.7,145.5 H72.5 Q76.5,145.5 76.5,141.5 V0.8" fill="none" stroke="#26354b" stroke-width="1.3"/><path d="M27.2,12 V115.75 A16.25,16.25 0 0 0 59.7,115.75 V12 Z" fill="url(#gH)" stroke="#26354b" stroke-width="1.4"/><path d="M28.8,60.2 V115.75 A14.65,14.65 0 0 0 58.1,115.75 V60.2 Z" fill="url(#Lpurple)"/><ellipse cx="43.45" cy="63.2" rx="14.65" ry="3" fill="#b37bc9" stroke="#643377" stroke-width="1"/><rect x="34.4" y="68.2" width="2.6" height="46.5" rx="1.3" fill="#ffffff" opacity="0.45"/><path d="M27.2,12 V115.75 A16.25,16.25 0 0 0 59.7,115.75 V12" fill="none" stroke="#26354b" stroke-width="1.4"/><path d="M43.5,-8 V-57 A38.85,38.85 0 0 1 121.2,-57 V-33" fill="none" stroke="#26354b" stroke-width="8.5"/><path d="M43.5,-8 V-57 A38.85,38.85 0 0 1 121.2,-57 V-33" fill="none" stroke="#8e4caa" stroke-width="5"/><path d="M23.5,-5.6 V13 Q23.5,15 26.5,15 H60.7 Q63.7,15 63.7,13 V-5.6 Z" fill="url(#mH)" stroke="#26354b" stroke-width="1.4"/><ellipse cx="43.6" cy="-5.6" rx="20.1" ry="3" fill="#dfe2e5" stroke="#26354b" stroke-width="1.3"/><line x1="23.5" y1="10" x2="63.7" y2="10" stroke="#26354b" stroke-width="1"/><rect x="40.5" y="15" width="6" height="7" fill="#c9cdd1" stroke="#26354b" stroke-width="1"/><rect x="112.5" y="-8.5" width="17" height="21" fill="#eef2f5" stroke="#b8c1c9" stroke-width="0.9"/><rect x="118.2" y="-8.5" width="7.3" height="21" fill="#ffffff" stroke="#26354b" stroke-width="0.9"/><rect x="111.8" y="-16" width="17.7" height="8" rx="1.5" fill="#cdd1d5" stroke="#26354b" stroke-width="1.1"/><rect x="110.3" y="-33.1" width="20.7" height="18" rx="2.5" fill="url(#mF)" stroke="#26354b" stroke-width="1.3"/><rect x="111.8" y="11.9" width="17.7" height="7.5" rx="1.5" fill="#cdd1d5" stroke="#26354b" stroke-width="1.1"/><rect x="110.3" y="18.4" width="20.7" height="18" rx="2.5" fill="url(#mF)" stroke="#26354b" stroke-width="1.3"/><rect x="118" y="36.4" width="6.1" height="21" fill="#8e4caa" stroke="#26354b" stroke-width="1"/><rect x="117.9" y="94" width="6.1" height="9.6" rx="1" fill="#8e4caa" stroke="#26354b" stroke-width="1"/><rect x="124.4" y="72.8" width="6" height="5.3" fill="#d9dde0" stroke="#26354b" stroke-width="0.9"/><rect x="138" y="72.4" width="14" height="6" fill="#b3b9be" stroke="#26354b" stroke-width="1"/><rect x="180" y="72.8" width="8.6" height="5.3" fill="#c7ccd0" stroke="#26354b" stroke-width="1"/><rect x="132.9" y="65.9" width="5.8" height="19.1" rx="2.9" fill="#d2d6da" stroke="#26354b" stroke-width="1.1"/><rect x="158.5" y="72" width="15.5" height="7.7" fill="url(#mH)" stroke="#26354b" stroke-width="1"/><rect x="151.2" y="69.1" width="7.7" height="12.2" rx="1.2" fill="#cbd0d4" stroke="#26354b" stroke-width="1.1"/><rect x="173.2" y="69.1" width="7.7" height="12.2" rx="1.2" fill="#cbd0d4" stroke="#26354b" stroke-width="1.1"/><rect x="163" y="62.5" width="5.7" height="10" fill="#aab0b6" stroke="#26354b" stroke-width="1"/><rect x="157.3" y="58.1" width="16.3" height="4.9" rx="2.4" fill="#c2c7cb" stroke="#26354b" stroke-width="1.1"/><rect x="115.9" y="63" width="10.5" height="25.5" fill="url(#mH)" stroke="#26354b" stroke-width="1.1"/><rect x="113.9" y="56.5" width="14.6" height="7.3" rx="1.2" fill="#cdd1d5" stroke="#26354b" stroke-width="1.1"/><rect x="113.9" y="87.8" width="14.6" height="7.7" rx="1.2" fill="#cdd1d5" stroke="#26354b" stroke-width="1.1"/><rect x="155.2" y="-35.8" width="20.5" height="73.7" rx="2" fill="#e3e7ea" stroke="#26354b" stroke-width="1.3"/><circle cx="165.45" cy="-27.5" r="5.3" fill="#c3c8cd" stroke="#26354b" stroke-width="1"/><line x1="162" y1="-27.5" x2="169" y2="-27.5" stroke="#26354b" stroke-width="0.8"/><line x1="160" y1="-17.0" x2="171" y2="-17.0" stroke="#6a7a8a" stroke-width="0.8"/><line x1="160" y1="-12.7" x2="171" y2="-12.7" stroke="#6a7a8a" stroke-width="0.8"/><line x1="160" y1="-8.4" x2="171" y2="-8.4" stroke="#6a7a8a" stroke-width="0.8"/><line x1="160" y1="-4.1" x2="171" y2="-4.1" stroke="#6a7a8a" stroke-width="0.8"/><line x1="160" y1="0.2" x2="171" y2="0.2" stroke="#6a7a8a" stroke-width="0.8"/><line x1="160" y1="4.5" x2="171" y2="4.5" stroke="#6a7a8a" stroke-width="0.8"/><line x1="160" y1="8.8" x2="171" y2="8.8" stroke="#6a7a8a" stroke-width="0.8"/><line x1="160" y1="13.1" x2="171" y2="13.1" stroke="#6a7a8a" stroke-width="0.8"/><line x1="160" y1="17.4" x2="171" y2="17.4" stroke="#6a7a8a" stroke-width="0.8"/><line x1="160" y1="21.7" x2="171" y2="21.7" stroke="#6a7a8a" stroke-width="0.8"/><rect x="163" y="-19" width="5" height="42" fill="#d6b8e2"/><rect x="164.3" y="-19" width="2.4" height="42" fill="#9a4fb8"/><circle cx="165.45" cy="29" r="5.8" fill="#c3c8cd" stroke="#26354b" stroke-width="1"/><line x1="162" y1="29" x2="169" y2="29" stroke="#26354b" stroke-width="0.8"/><circle cx="166.2" cy="123" r="14.5" fill="#f4f6f7" stroke="#26354b" stroke-width="1.6"/><path d="M155.5,128 A11,11 0 0 1 166.2,112" fill="none" stroke="#6a8aa8" stroke-width="1"/><path d="M166.2,112 A11,11 0 0 1 177,128" fill="none" stroke="#b05050" stroke-width="1"/><line x1="163" y1="126" x2="172" y2="116" stroke="#26354b" stroke-width="1.8"/><circle cx="166.2" cy="123" r="1.8" fill="#26354b"/><circle cx="116.1" cy="153.4" r="28.3" fill="#ffffff"/><circle cx="116.1" cy="153.4" r="26" fill="#3aa553"/><path d="M100.5,156 L111.4,165 L130.5,144.5" fill="none" stroke="#ffffff" stroke-width="6.8" stroke-linecap="round" stroke-linejoin="round"/></g>
<text x="1511.1" y="650" font-family='"Liberation Sans", sans-serif' font-size="23.7" fill="#1e2a3a" textLength="166.5" lengthAdjust="spacingAndGlyphs">No Cross-Talk</text>
<g transform="translate(1708.4,441.6)"><rect x="11.7" y="165" width="17.5" height="7" rx="1.5" fill="#5b6470" stroke="#26354b" stroke-width="1"/><rect x="171.7" y="165" width="18" height="7" rx="1.5" fill="#5b6470" stroke="#26354b" stroke-width="1"/><rect x="86" y="-52" width="115.7" height="218" rx="6" fill="url(#boxG)" stroke="#26354b" stroke-width="1.7"/><rect x="94" y="-44.6" width="100" height="203" rx="4" fill="url(#boxG2)" stroke="#7e8893" stroke-width="1.2"/><rect x="0" y="0" width="87" height="166" rx="6" fill="url(#boxG)" stroke="#26354b" stroke-width="1.7"/><path d="M11.7,0.8 V141.5 Q11.7,145.5 15.7,145.5 H72.5 Q76.5,145.5 76.5,141.5 V0.8 Z" fill="url(#boxG2)"/><path d="M11.7,0.8 V141.5 Q11.7,145.5 15.7,145.5 H72.5 Q76.5,145.5 76.5,141.5 V0.8" fill="none" stroke="#26354b" stroke-width="1.3"/><path d="M27.2,12 V115.75 A16.25,16.25 0 0 0 59.7,115.75 V12 Z" fill="url(#gH)" stroke="#26354b" stroke-width="1.4"/><path d="M28.8,60.2 V115.75 A14.65,14.65 0 0 0 58.1,115.75 V60.2 Z" fill="url(#Lorange)"/><ellipse cx="43.45" cy="63.2" rx="14.65" ry="3" fill="#f3a75a" stroke="#9c5917" stroke-width="1"/><rect x="34.4" y="68.2" width="2.6" height="46.5" rx="1.3" fill="#ffffff" opacity="0.45"/><path d="M27.2,12 V115.75 A16.25,16.25 0 0 0 59.7,115.75 V12" fill="none" stroke="#26354b" stroke-width="1.4"/><path d="M43.5,-8 V-57 A38.85,38.85 0 0 1 121.2,-57 V-33" fill="none" stroke="#26354b" stroke-width="8.5"/><path d="M43.5,-8 V-57 A38.85,38.85 0 0 1 121.2,-57 V-33" fill="none" stroke="#ef9230" stroke-width="5"/><path d="M23.5,-5.6 V13 Q23.5,15 26.5,15 H60.7 Q63.7,15 63.7,13 V-5.6 Z" fill="url(#mH)" stroke="#26354b" stroke-width="1.4"/><ellipse cx="43.6" cy="-5.6" rx="20.1" ry="3" fill="#dfe2e5" stroke="#26354b" stroke-width="1.3"/><line x1="23.5" y1="10" x2="63.7" y2="10" stroke="#26354b" stroke-width="1"/><rect x="40.5" y="15" width="6" height="7" fill="#c9cdd1" stroke="#26354b" stroke-width="1"/><rect x="112.5" y="-8.5" width="17" height="21" fill="#eef2f5" stroke="#b8c1c9" stroke-width="0.9"/><rect x="118.2" y="-8.5" width="7.3" height="21" fill="#ffffff" stroke="#26354b" stroke-width="0.9"/><rect x="111.8" y="-16" width="17.7" height="8" rx="1.5" fill="#cdd1d5" stroke="#26354b" stroke-width="1.1"/><rect x="110.3" y="-33.1" width="20.7" height="18" rx="2.5" fill="url(#mF)" stroke="#26354b" stroke-width="1.3"/><rect x="111.8" y="11.9" width="17.7" height="7.5" rx="1.5" fill="#cdd1d5" stroke="#26354b" stroke-width="1.1"/><rect x="110.3" y="18.4" width="20.7" height="18" rx="2.5" fill="url(#mF)" stroke="#26354b" stroke-width="1.3"/><rect x="118" y="36.4" width="6.1" height="21" fill="#ef9230" stroke="#26354b" stroke-width="1"/><rect x="117.9" y="94" width="6.1" height="9.6" rx="1" fill="#ef9230" stroke="#26354b" stroke-width="1"/><rect x="124.4" y="72.8" width="6" height="5.3" fill="#d9dde0" stroke="#26354b" stroke-width="0.9"/><rect x="138" y="72.4" width="14" height="6" fill="#b3b9be" stroke="#26354b" stroke-width="1"/><rect x="180" y="72.8" width="8.6" height="5.3" fill="#c7ccd0" stroke="#26354b" stroke-width="1"/><rect x="132.9" y="65.9" width="5.8" height="19.1" rx="2.9" fill="#d2d6da" stroke="#26354b" stroke-width="1.1"/><rect x="158.5" y="72" width="15.5" height="7.7" fill="url(#mH)" stroke="#26354b" stroke-width="1"/><rect x="151.2" y="69.1" width="7.7" height="12.2" rx="1.2" fill="#cbd0d4" stroke="#26354b" stroke-width="1.1"/><rect x="173.2" y="69.1" width="7.7" height="12.2" rx="1.2" fill="#cbd0d4" stroke="#26354b" stroke-width="1.1"/><rect x="163" y="62.5" width="5.7" height="10" fill="#aab0b6" stroke="#26354b" stroke-width="1"/><rect x="157.3" y="58.1" width="16.3" height="4.9" rx="2.4" fill="#c2c7cb" stroke="#26354b" stroke-width="1.1"/><rect x="115.9" y="63" width="10.5" height="25.5" fill="url(#mH)" stroke="#26354b" stroke-width="1.1"/><rect x="113.9" y="56.5" width="14.6" height="7.3" rx="1.2" fill="#cdd1d5" stroke="#26354b" stroke-width="1.1"/><rect x="113.9" y="87.8" width="14.6" height="7.7" rx="1.2" fill="#cdd1d5" stroke="#26354b" stroke-width="1.1"/><rect x="155.2" y="-35.8" width="20.5" height="73.7" rx="2" fill="#e3e7ea" stroke="#26354b" stroke-width="1.3"/><circle cx="165.45" cy="-27.5" r="5.3" fill="#c3c8cd" stroke="#26354b" stroke-width="1"/><line x1="162" y1="-27.5" x2="169" y2="-27.5" stroke="#26354b" stroke-width="0.8"/><line x1="160" y1="-17.0" x2="171" y2="-17.0" stroke="#6a7a8a" stroke-width="0.8"/><line x1="160" y1="-12.7" x2="171" y2="-12.7" stroke="#6a7a8a" stroke-width="0.8"/><line x1="160" y1="-8.4" x2="171" y2="-8.4" stroke="#6a7a8a" stroke-width="0.8"/><line x1="160" y1="-4.1" x2="171" y2="-4.1" stroke="#6a7a8a" stroke-width="0.8"/><line x1="160" y1="0.2" x2="171" y2="0.2" stroke="#6a7a8a" stroke-width="0.8"/><line x1="160" y1="4.5" x2="171" y2="4.5" stroke="#6a7a8a" stroke-width="0.8"/><line x1="160" y1="8.8" x2="171" y2="8.8" stroke="#6a7a8a" stroke-width="0.8"/><line x1="160" y1="13.1" x2="171" y2="13.1" stroke="#6a7a8a" stroke-width="0.8"/><line x1="160" y1="17.4" x2="171" y2="17.4" stroke="#6a7a8a" stroke-width="0.8"/><line x1="160" y1="21.7" x2="171" y2="21.7" stroke="#6a7a8a" stroke-width="0.8"/><rect x="163" y="-19" width="5" height="42" fill="#f9d0a7"/><rect x="164.3" y="-19" width="2.4" height="42" fill="#f08a24"/><circle cx="165.45" cy="29" r="5.8" fill="#c3c8cd" stroke="#26354b" stroke-width="1"/><line x1="162" y1="29" x2="169" y2="29" stroke="#26354b" stroke-width="0.8"/><circle cx="166.2" cy="123" r="14.5" fill="#f4f6f7" stroke="#26354b" stroke-width="1.6"/><path d="M155.5,128 A11,11 0 0 1 166.2,112" fill="none" stroke="#6a8aa8" stroke-width="1"/><path d="M166.2,112 A11,11 0 0 1 177,128" fill="none" stroke="#b05050" stroke-width="1"/><line x1="163" y1="126" x2="172" y2="116" stroke="#26354b" stroke-width="1.8"/><circle cx="166.2" cy="123" r="1.8" fill="#26354b"/><circle cx="116.1" cy="153.4" r="28.3" fill="#ffffff"/><circle cx="116.1" cy="153.4" r="26" fill="#3aa553"/><path d="M100.5,156 L111.4,165 L130.5,144.5" fill="none" stroke="#ffffff" stroke-width="6.8" stroke-linecap="round" stroke-linejoin="round"/></g>
<text x="1730.8" y="650" font-family='"Liberation Sans", sans-serif' font-size="23.7" fill="#1e2a3a" textLength="166.5" lengthAdjust="spacingAndGlyphs">No Cross-Talk</text>
<circle cx="1621.2" cy="307" r="31" fill="#3aa553"/>
<path d="M1602.5,310.5 L1616.5,321.5 L1637,297.5" fill="none" stroke="#ffffff" stroke-width="8.5" stroke-linecap="round" stroke-linejoin="round"/>
<text x="1664" y="317.5" font-family='"Liberation Sans", sans-serif' font-size="31" fill="#1a2130" textLength="196" lengthAdjust="spacingAndGlyphs">No Cross-Talk</text></svg>
</body></html>
